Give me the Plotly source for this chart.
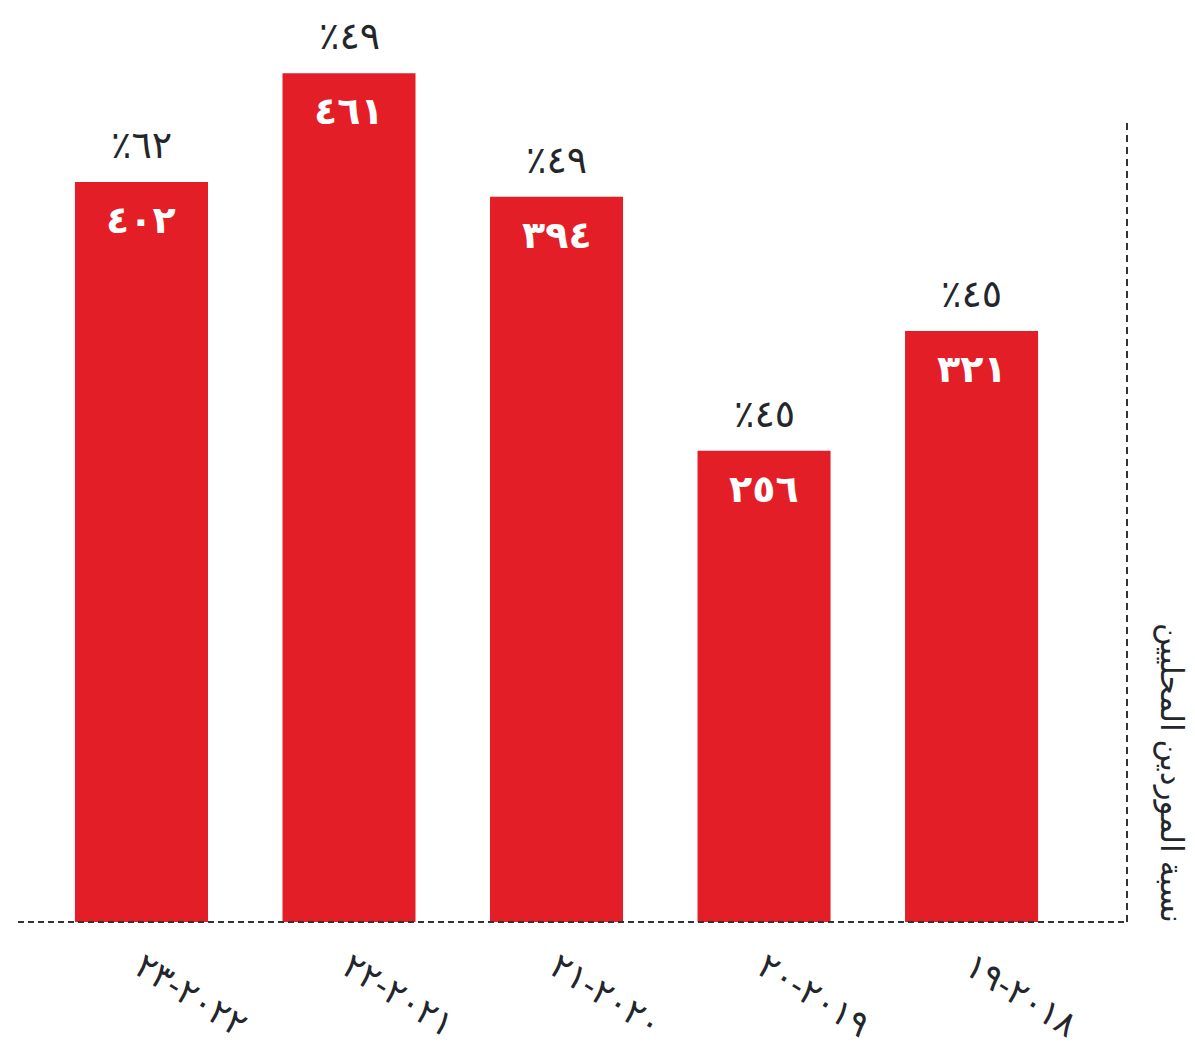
import plotly.graph_objects as go

# Data (Arabic-Indic text as shown)
categories = ["٢٠٢٢-٢٣", "٢٠٢١-٢٢", "٢٠٢٠-٢١", "٢٠١٩-٢٠", "٢٠١٨-١٩"]
values = [402, 461, 394, 256, 321]
value_labels = ["٤٠٢", "٤٦١", "٣٩٤", "٢٥٦", "٣٢١"]
percent_labels = ["٪٦٢", "٪٤٩", "٪٤٩", "٪٤٥", "٪٤٥"]
axis_title = "نسبة الموردين المحليين"

RED = "#e31e27"
DARK = "#23262b"
FONT = "Noto Sans, DejaVu Sans, sans-serif"

fig = go.Figure()
fig.add_trace(go.Bar(
    x=categories, y=values,
    marker=dict(color=RED, line=dict(width=0)),
    hoverinfo="skip",
))

annotations = []
for c, v, vl, pl in zip(categories, values, value_labels, percent_labels):
    annotations.append(dict(x=c, y=v, xref="x", yref="y", text="<b>%s</b>" % vl,
                            showarrow=False, yshift=-36,
                            font=dict(size=38, color="white", family=FONT)))
    annotations.append(dict(x=c, y=v, xref="x", yref="y", text=pl,
                            showarrow=False, yshift=39,
                            font=dict(size=38, color=DARK, family=FONT)))

annotations.append(dict(x=1, y=0, xref="paper", yref="paper", xanchor="left", yanchor="bottom",
                        xshift=24, yshift=-2, text=axis_title, textangle=90, showarrow=False,
                        borderpad=0,
                        font=dict(size=31, color=DARK, family=FONT)))

fig.update_layout(
    width=1187, height=1041,
    margin=dict(l=10, r=68, t=2, b=127),
    paper_bgcolor="white", plot_bgcolor="white",
    bargap=0.359,
    showlegend=False,
    annotations=annotations,
    shapes=[
        dict(type="line", xref="paper", yref="paper", x0=0, x1=1, y0=0, y1=0,
             line=dict(color="#333", width=2, dash="6px,4px")),
        dict(type="line", xref="paper", yref="paper", x0=1, x1=1, y0=0, y1=0.8816,
             line=dict(color="#333", width=2, dash="7px,5px")),
    ],
    xaxis=dict(
        type="category", range=[-0.595, 4.749], automargin=False,
        showline=False, showgrid=False, zeroline=False, ticks="",
        tickangle=32, ticklabelstandoff=17,
        tickfont=dict(size=35, color=DARK, family=FONT),
    ),
    yaxis=dict(
        range=[0, 495.4], showline=False, showgrid=False, zeroline=False,
        showticklabels=False, ticks="", automargin=False,
    ),
)

fig.write_html("out.html")
